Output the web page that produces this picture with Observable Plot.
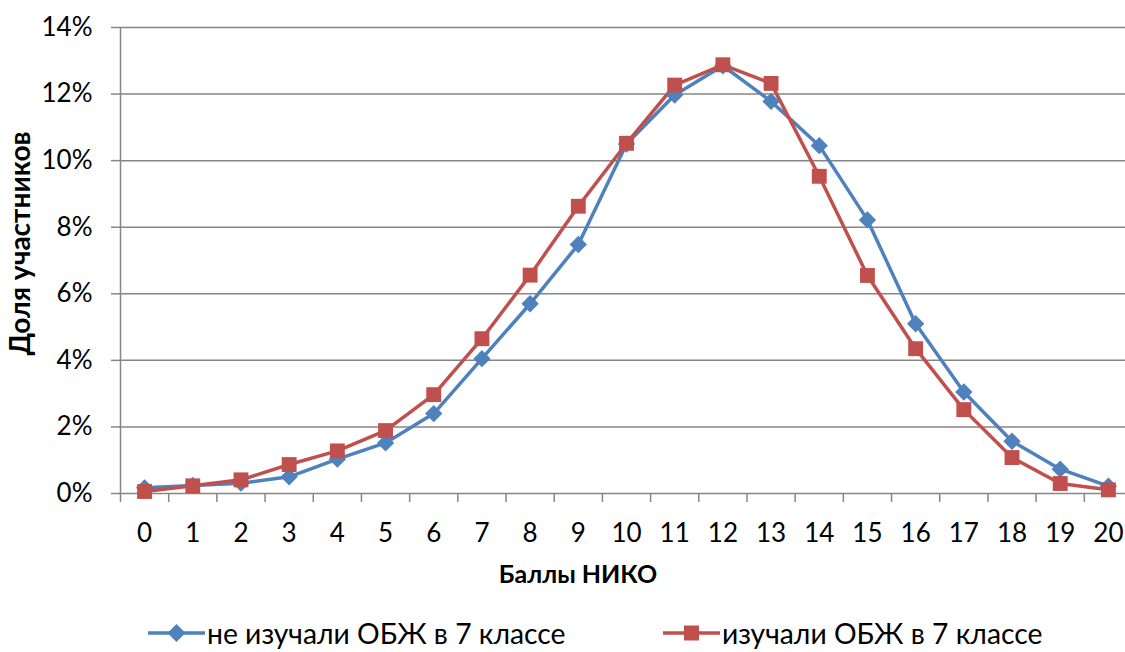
<!DOCTYPE html>
<html>
<head>
<meta charset="utf-8">
<script src="https://cdn.jsdelivr.net/npm/d3@7"></script>
<script src="https://cdn.jsdelivr.net/npm/@observablehq/plot@0.6"></script>
<style>
  html, body { margin: 0; padding: 0; background: #fff; }
  #wrap { position: relative; width: 1125px; height: 652px; font-family: Lato, "Open Sans", sans-serif; }
  #legend { position: absolute; left: 0; top: 600px; width: 1125px; height: 52px; }
  .item { position: absolute; top: 18px; display: flex; align-items: center; font-size: 28.3px; line-height: 30px; color: #000; white-space: nowrap; }
  .item svg { margin-right: 2px; }
</style>
</head>
<body>
<div id="wrap">
  <div id="chart"></div>
  <div id="legend"></div>
</div>
<script>
// Categories (scores)
const scores = [0,1,2,3,4,5,6,7,8,9,10,11,12,13,14,15,16,17,18,19,20];
// Series values, % of participants
const notStudied = [0.17,0.24,0.31,0.5,1.03,1.52,2.4,4.05,5.7,7.48,10.5,11.97,12.85,11.78,10.45,8.22,5.1,3.05,1.57,0.73,0.22];
const studied    = [0.06,0.23,0.41,0.87,1.28,1.89,2.97,4.65,6.56,8.63,10.52,12.27,12.88,12.32,9.53,6.55,4.35,2.52,1.08,0.3,0.11];
const seriesNames = ["не изучали ОБЖ в 7 классе", "изучали ОБЖ в 7 классе"];
const seriesColors = ["#4F81BD", "#C0504D"];
const yTicks = [0,2,4,6,8,10,12,14];
const boundaries = [-0.5,0.5,1.5,2.5,3.5,4.5,5.5,6.5,7.5,8.5,9.5,10.5,11.5,12.5,13.5,14.5,15.5,16.5,17.5,18.5,19.5,20.5];
const xTitle = "Баллы НИКО";
const yTitle = "Доля участников";

const rowsA = scores.map((s, i) => ({score: s, value: notStudied[i], series: seriesNames[0]}));
const rowsB = scores.map((s, i) => ({score: s, value: studied[i], series: seriesNames[1]}));
const grey = "#868686";

const chart = Plot.plot({
  width: 1125,
  height: 600,
  marginLeft: 120,
  marginRight: 0,
  marginTop: 27,
  marginBottom: 107,
  style: {fontFamily: "Lato, 'Open Sans', sans-serif", background: "#fff", color: "#000", overflow: "hidden"},
  x: {domain: [-0.5, 20.5], range: [120, 1132]},
  y: {domain: [0, 14], range: [493, 27]},
  marks: [
    Plot.ruleY(yTicks, {stroke: grey, strokeWidth: 1.5}),
    Plot.ruleX([-0.5], {y1: 0, y2: 14, stroke: grey, strokeWidth: 1.5}),
    Plot.axisX({ticks: boundaries, tickSize: 9, tickFormat: () => "", stroke: grey, strokeWidth: 1.5, label: null}),
    Plot.axisX({ticks: scores, tickSize: 0, tickPadding: 30, fontSize: 26, fill: "#000", tickFormat: d => String(d), label: null}),
    Plot.axisY({ticks: yTicks, tickSize: 9, tickPadding: 19, fontSize: 26, stroke: grey, strokeWidth: 1.5, fill: "#000", tickFormat: d => d + "%", label: null}),
    Plot.text([xTitle], {frameAnchor: "bottom", lineAnchor: "middle", textAnchor: "middle", dx: -45, dy: 81, fontSize: 25, fontWeight: "bold", fill: "#000"}),
    Plot.text([yTitle], {frameAnchor: "left", textAnchor: "middle", lineAnchor: "middle", rotate: -90, dx: -99, dy: -17, fontSize: 28, fontWeight: "bold", fill: "#000"}),
    Plot.line(rowsA, {x: "score", y: "value", stroke: seriesColors[0], strokeWidth: 3.5}),
    Plot.line(rowsB, {x: "score", y: "value", stroke: seriesColors[1], strokeWidth: 3.5}),
    Plot.dot(rowsA, {x: "score", y: "value", symbol: "diamond2", r: 7.8, fill: seriesColors[0], stroke: "none"}),
    Plot.dot(rowsB, {x: "score", y: "value", symbol: "square", r: 8.4, fill: seriesColors[1], stroke: "none"})
  ]
});
document.getElementById("chart").appendChild(chart);

// Legend
const legend = document.getElementById("legend");
const lefts = [148, 663];
seriesNames.forEach((name, i) => {
  const item = document.createElement("div");
  item.className = "item";
  item.style.left = lefts[i] + "px";
  const marker = i === 0
    ? `<polygon points="28.5,20 37.5,29 28.5,38 19.5,29" fill="${seriesColors[0]}"/>`
    : `<rect x="21" y="21.5" width="15" height="15" fill="${seriesColors[1]}"/>`;
  item.innerHTML = `<svg width="57" height="30" viewBox="0 14 57 30"><line x1="0" y1="29" x2="57" y2="29" stroke="${seriesColors[i]}" stroke-width="3.5"/>${marker}</svg><span>${name}</span>`;
  legend.appendChild(item);
});
</script>
</body>
</html>
